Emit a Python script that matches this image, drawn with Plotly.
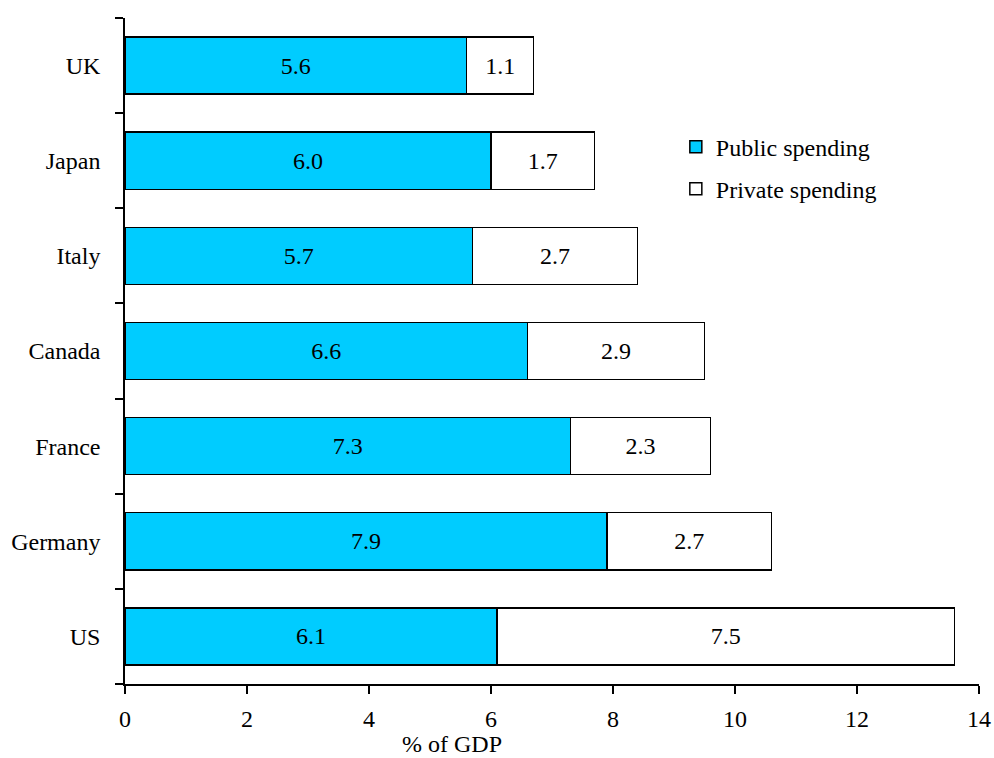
import plotly.graph_objects as go

countries = ["US", "Germany", "France", "Canada", "Italy", "Japan", "UK"]
public = [6.1, 7.9, 7.3, 6.6, 5.7, 6.0, 5.6]
private = [7.5, 2.7, 2.3, 2.9, 2.7, 1.7, 1.1]
x_ticks = [0, 2, 4, 6, 8, 10, 12, 14]

FONT = "Liberation Serif"
FS = 24

fig = go.Figure()
fig.add_trace(go.Bar(
    y=countries, x=public, orientation="h", name="Public spending",
    legendgroup="pub",
    marker=dict(color="#00CCFF", line=dict(color="black", width=1.5)),
    text=[f"{v:.1f}" for v in public], textposition="inside",
    insidetextanchor="middle", textangle=0,
    textfont=dict(family=FONT, size=FS, color="black"),
))
fig.add_trace(go.Bar(
    y=countries, x=private, orientation="h", name="Private spending",
    legendgroup="priv",
    marker=dict(color="white", line=dict(color="black", width=1.5)),
    text=[f"{v:.1f}" for v in private], textposition="inside",
    insidetextanchor="middle", textangle=0,
    textfont=dict(family=FONT, size=FS, color="black"),
))

fig.update_layout(
    barmode="stack", bargap=0.4,
    width=994, height=758,
    margin=dict(l=125, r=15, t=18, b=74, autoexpand=False),
    paper_bgcolor="white", plot_bgcolor="white",
    font=dict(family=FONT, size=FS, color="black"),
    uniformtext=dict(minsize=FS, mode="show"),
    legend=dict(x=0.645, y=0.84, xanchor="left", yanchor="top",
                bgcolor="rgba(0,0,0,0)", font=dict(family=FONT, size=FS),
                traceorder="grouped", tracegroupgap=8),
    showlegend=True,
)
fig.update_xaxes(
    range=[0, 14], tickvals=x_ticks, ticktext=[str(t) for t in x_ticks],
    ticks="outside", ticklen=8, tickwidth=1.5, tickcolor="black",
    showline=True, linecolor="black", linewidth=1.5,
    showgrid=False, zeroline=False, automargin=False, ticklabelstandoff=4,
)
fig.update_yaxes(
    type="category", categoryorder="array", categoryarray=countries,
    tickson="boundaries", ticks="outside", ticklen=8, tickwidth=1.5,
    tickcolor="black", showline=True, linecolor="black", linewidth=1.5,
    showgrid=False, zeroline=False, ticklabelstandoff=18, automargin=False,
)
fig.add_annotation(text="% of GDP", xref="paper", yref="paper",
                   x=0.383, y=-74 / 666, yanchor="bottom", borderpad=0,
                   showarrow=False, font=dict(family=FONT, size=FS))

fig.write_html("out.html")
